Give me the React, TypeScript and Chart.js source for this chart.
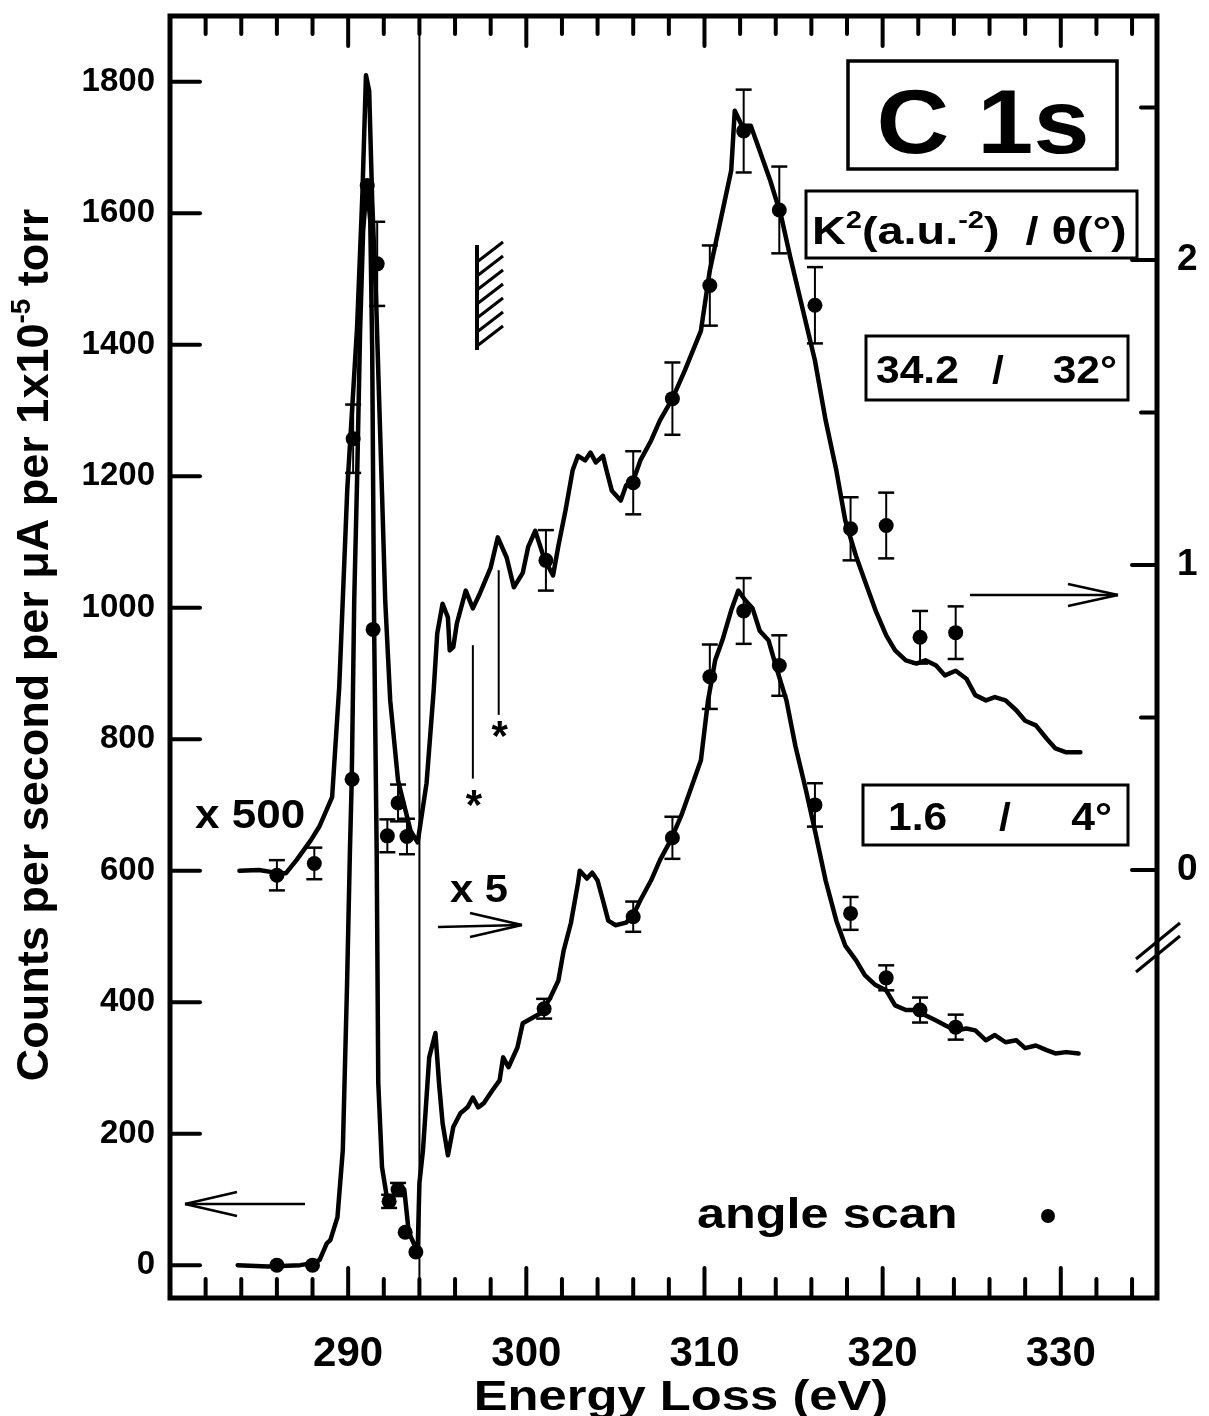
import React, { useEffect, useRef } from 'react';
import { Chart, registerables } from 'chart.js';

Chart.register(...registerables);

const FONT = '"Liberation Sans", Arial, Helvetica, sans-serif';

// ---------- axes ----------
const xMin = 280;
const xMax = 335.4;
const xTickValues = [290, 300, 310, 320, 330];
const xMinorValues = [282, 284, 286, 288, 292, 294, 296, 298, 302, 304, 306, 308, 312, 314, 316, 318, 322, 324, 326, 328, 332, 334];
const yMin = -50;
const yMax = 1900;
const yTickValues = [0, 200, 400, 600, 800, 1000, 1200, 1400, 1600, 1800];
const y2Min = -1.403;
const y2Max = 2.8;
const y2TickValues = [0, 1, 2];
const y2MinorValues = [0.5, 1.5, 2.5];

// ---------- upper spectrum (34.2 / 32°, x500 then x5) ----------
const upperE = [283.9, 285.0, 285.9, 286.5, 287.1, 287.9, 288.4, 289.1, 289.5, 289.95, 290.5, 290.8, 291.0, 291.18, 291.35, 291.57, 291.74, 291.9, 292.08, 292.36, 292.8, 293.5, 293.9, 294.4, 294.8, 295.0, 295.3, 295.6, 295.7, 295.9, 296.1, 296.6, 297.0, 297.4, 298.0, 298.4, 298.9, 299.3, 299.8, 300.1, 300.5, 301.0, 301.5, 301.8, 302.2, 302.6, 302.9, 303.3, 303.6, 303.9, 304.3, 304.5, 304.8, 305.3, 305.6, 306.0, 306.4, 307.0, 307.5, 308.2, 308.9, 309.8, 310.3, 310.9, 311.5, 311.7, 312.1, 312.6, 313.1, 313.7, 314.3, 314.8, 315.4, 316.2, 316.8, 317.4, 317.9, 318.5, 319.0, 319.6, 320.2, 320.7, 321.3, 321.9, 322.4, 323.0, 323.5, 324.1, 324.7, 325.2, 325.8, 326.3, 326.9, 327.5, 328.0, 328.6, 329.2, 329.7, 330.3, 331.1];
const upperV = [600, 601, 597, 596, 616, 646, 668, 712, 880, 1180, 1426, 1630, 1810, 1786, 1619, 1467, 1315, 1174, 1011, 859, 737, 661, 643, 733, 874, 961, 1006, 985, 935, 940, 976, 1026, 999, 1022, 1061, 1107, 1076, 1031, 1053, 1092, 1117, 1075, 1049, 1094, 1148, 1209, 1231, 1224, 1236, 1221, 1231, 1209, 1178, 1163, 1186, 1193, 1224, 1254, 1285, 1318, 1361, 1421, 1513, 1589, 1665, 1756, 1733, 1733, 1695, 1649, 1596, 1535, 1467, 1376, 1285, 1209, 1133, 1079, 1041, 996, 958, 935, 920, 915, 920, 912, 897, 904, 892, 867, 859, 864, 859, 844, 828, 821, 801, 786, 780, 780];

// ---------- lower spectrum (1.6 / 4°, x1 then x5) ----------
const lowerE = [283.8, 285.5, 287.3, 288.0, 288.4, 288.8, 289.0, 289.4, 289.7, 289.94, 290.1, 290.2, 290.34, 290.5, 290.67, 290.84, 291.05, 291.24, 291.35, 291.4, 291.46, 291.6, 291.69, 291.9, 292.2, 292.3, 292.8, 293.15, 293.4, 293.9, 294.0, 294.2, 294.55, 294.9, 295.1, 295.3, 295.6, 295.9, 296.3, 296.7, 297.0, 297.3, 297.6, 298.1, 298.5, 298.7, 299.0, 299.5, 299.8, 300.8, 301.35, 301.8, 302.1, 302.5, 302.9, 303.0, 303.4, 303.7, 304.0, 304.3, 304.6, 305.0, 305.6, 306.0, 306.4, 307.0, 307.5, 308.1, 308.7, 309.2, 309.8, 310.2, 310.6, 311.0, 311.5, 311.9, 312.3, 312.7, 313.1, 313.6, 314.0, 314.6, 315.1, 315.7, 316.2, 316.8, 317.4, 317.9, 318.5, 319.0, 319.6, 320.2, 320.7, 321.3, 321.9, 322.4, 323.0, 323.5, 324.1, 324.7, 325.2, 325.8, 326.3, 326.9, 327.5, 328.0, 328.6, 329.2, 329.7, 330.3, 331.0];
const lowerV = [0, -2, 0, 3, 8, 33, 38, 73, 175, 429, 631, 737, 1011, 1193, 1421, 1573, 1645, 1589, 1391, 1193, 965, 631, 277, 149, 99, 97, 115, 115, 50, 20, 125, 175, 316, 353, 277, 216, 167, 210, 231, 240, 255, 240, 246, 266, 281, 316, 301, 331, 368, 383, 407, 433, 479, 520, 581, 600, 588, 597, 585, 555, 524, 517, 521, 532, 555, 585, 616, 646, 684, 722, 768, 859, 920, 950, 996, 1026, 1011, 999, 965, 950, 912, 859, 790, 722, 661, 585, 524, 486, 464, 441, 426, 418, 395, 388, 388, 380, 372, 365, 357, 360, 357, 342, 350, 339, 342, 330, 334, 327, 322, 324, 322];

// ---------- angle scan points ----------
const upperDotE = [286.0, 288.1, 292.2, 292.8, 293.3, 301.1, 306.0, 308.2, 310.3, 312.2, 314.2, 316.2, 318.2, 320.2, 322.1, 324.1];
const upperDotV = [593, 611, 653, 703, 652, 1072, 1190, 1318, 1490, 1725, 1605, 1460, 1120, 1125, 955, 962];
const upperDotErr = [23, 24, 25, 28, 27, 46, 48, 55, 61, 63, 66, 58, 48, 50, 40, 40];

const peakDotE = [290.22, 290.28, 291.07, 291.63, 291.4];
const peakDotV = [739, 1257, 1642, 1523, 967];
const peakDotErr = [0, 52, 0, 64, 0];

const lowerDotE = [286.0, 288.0, 292.3, 292.8, 293.2, 293.8, 301.0, 306.0, 308.2, 310.3, 312.2, 314.2, 316.2, 318.2, 320.2, 322.1, 324.1];
const lowerDotV = [0, 0, 97, 115, 50, 20, 390, 530, 650, 895, 995, 912, 700, 535, 437, 388, 362];
const lowerDotErr = [0, 0, 10, 10, 0, 0, 15, 23, 32, 49, 50, 46, 33, 25, 19, 19, 19];

// ---------- annotation anchors (data coordinates) ----------
const refLineE = 294.0;
const asteriskE = [297.0, 298.45];
const asteriskTopV = [943, 1057];
const asteriskBottomV = [740, 837];
const asteriskStarV = [708, 813];

const pts = (xs: number[], ys: number[]) => xs.map((x, i) => ({ x, y: ys[i] }));

type Seg = { t: string; sup?: boolean };

function font(size: number) {
  return `bold ${size}px ${FONT}`;
}

function drawRich(ctx: CanvasRenderingContext2D, segs: Seg[], x: number, y: number, size: number, align: 'left' | 'center' | 'right', sx = 1) {
  ctx.save();
  ctx.translate(x, y);
  ctx.scale(sx, 1);
  ctx.textAlign = 'left';
  ctx.textBaseline = 'alphabetic';
  let w = 0;
  for (const s of segs) {
    ctx.font = font(s.sup ? size * 0.62 : size);
    w += ctx.measureText(s.t).width;
  }
  let cx = align === 'center' ? -w / 2 : align === 'right' ? -w : 0;
  for (const s of segs) {
    ctx.font = font(s.sup ? size * 0.62 : size);
    ctx.fillText(s.t, cx, s.sup ? -size * 0.4 : 0);
    cx += ctx.measureText(s.t).width;
  }
  ctx.restore();
}

function line(ctx: CanvasRenderingContext2D, x1: number, y1: number, x2: number, y2: number, w: number) {
  ctx.lineWidth = w;
  ctx.beginPath();
  ctx.moveTo(x1, y1);
  ctx.lineTo(x2, y2);
  ctx.stroke();
}

function arrow(ctx: CanvasRenderingContext2D, x1: number, y1: number, x2: number, y2: number, headLen: number, headHalf: number) {
  line(ctx, x1, y1, x2, y2, 2.5);
  const dir = Math.sign(x2 - x1);
  line(ctx, x2, y2, x2 - dir * headLen, y2 - headHalf, 2.5);
  line(ctx, x2, y2, x2 - dir * headLen, y2 + headHalf, 2.5);
}

const errorBarPlugin = {
  id: 'errorBars',
  afterDatasetsDraw(chart: any) {
    const ctx: CanvasRenderingContext2D = chart.ctx;
    const xs = chart.scales.x;
    const ys = chart.scales.y;
    const sets = [
      [upperDotE, upperDotV, upperDotErr],
      [peakDotE, peakDotV, peakDotErr],
      [lowerDotE, lowerDotV, lowerDotErr],
    ];
    ctx.save();
    ctx.strokeStyle = '#000';
    for (const [es, vs, errs] of sets) {
      es.forEach((e, i) => {
        if (!errs[i]) return;
        const px = xs.getPixelForValue(e);
        const top = ys.getPixelForValue(vs[i] + errs[i]);
        const bot = ys.getPixelForValue(vs[i] - errs[i]);
        line(ctx, px, top, px, bot, 2);
        line(ctx, px - 8, top, px + 8, top, 2.5);
        line(ctx, px - 8, bot, px + 8, bot, 2.5);
      });
    }
    ctx.restore();
  },
};

const decorPlugin = {
  id: 'decor',
  afterDraw(chart: any) {
    const ctx: CanvasRenderingContext2D = chart.ctx;
    const { left, right, top, bottom } = chart.chartArea;
    const xs = chart.scales.x;
    const ys = chart.scales.y;
    const y2s = chart.scales.y2;
    const X = (e: number) => xs.getPixelForValue(e);
    const Y = (v: number) => ys.getPixelForValue(v);
    ctx.save();
    ctx.strokeStyle = '#000';
    ctx.fillStyle = '#000';
    ctx.lineCap = 'round';

    // frame
    ctx.lineWidth = 5;
    ctx.strokeRect(left, top, right - left, bottom - top);

    // x ticks (bottom + top, inward)
    for (const v of xTickValues) {
      line(ctx, X(v), bottom, X(v), bottom - 30, 4);
      line(ctx, X(v), top, X(v), top + 30, 4);
    }
    for (const v of xMinorValues) {
      line(ctx, X(v), bottom, X(v), bottom - 19, 4);
      line(ctx, X(v), top, X(v), top + 18, 4);
    }
    // left ticks
    for (const v of yTickValues) line(ctx, left, Y(v), left + 30, Y(v), 4);
    // right ticks
    for (const v of y2TickValues) line(ctx, right, y2s.getPixelForValue(v), right - 25, y2s.getPixelForValue(v), 4);
    for (const v of y2MinorValues) line(ctx, right, y2s.getPixelForValue(v), right - 16, y2s.getPixelForValue(v), 4);
    // axis break on right axis
    ctx.lineCap = 'butt';
    line(ctx, 1136, 972, 1180, 936, 3);
    line(ctx, 1136, 959, 1180, 923, 3);

    // vertical reference line at 294 eV
    line(ctx, X(refLineE), top, X(refLineE), bottom, 2);

    // hatched marker
    line(ctx, 477, 245, 477, 350, 4);
    for (let yy = 262; yy <= 350; yy += 14) line(ctx, 477, yy, 503, yy - 20, 3);

    // asterisk marks
    asteriskE.forEach((e, i) => {
      line(ctx, X(e), Y(asteriskTopV[i]), X(e), Y(asteriskBottomV[i]), 2);
      ctx.font = font(42);
      ctx.textAlign = 'center';
      ctx.textBaseline = 'middle';
      ctx.fillText('*', X(e) + 1, Y(asteriskStarV[i]) + 8);
    });

    // arrows
    arrow(ctx, 305, 1204, 185, 1204, 52, 12);
    arrow(ctx, 438, 927, 522, 925, 52, 12);
    arrow(ctx, 970, 595, 1118, 595, 50, 11);

    // boxes
    ctx.lineWidth = 3.5;
    ctx.strokeRect(848, 61, 269, 108);
    ctx.lineWidth = 3;
    ctx.strokeRect(806, 191, 331, 67);
    ctx.strokeRect(866, 336, 262, 64);
    ctx.strokeRect(863, 785, 265, 60);

    // texts
    drawRich(ctx, [{ t: 'C 1s' }], 983, 153, 90, 'center', 1.12);
    drawRich(ctx, [{ t: 'K' }, { t: '2', sup: true }, { t: '(a.u.' }, { t: '-2', sup: true }, { t: ')  / θ(°)' }], 812, 244, 39, 'left', 1.2);
    drawRich(ctx, [{ t: '34.2' }], 876, 383, 38, 'left', 1.12);
    drawRich(ctx, [{ t: '/' }], 998, 383, 38, 'center', 1.12);
    drawRich(ctx, [{ t: '32°' }], 1117, 383, 38, 'right', 1.12);
    drawRich(ctx, [{ t: '1.6' }], 888, 830, 38, 'left', 1.12);
    drawRich(ctx, [{ t: '/' }], 1005, 830, 38, 'center', 1.12);
    drawRich(ctx, [{ t: '4°' }], 1112, 830, 38, 'right', 1.12);
    drawRich(ctx, [{ t: 'x 500' }], 195, 828, 40, 'left', 1.1);
    drawRich(ctx, [{ t: 'x 5' }], 450, 902, 38, 'left', 1.1);
    drawRich(ctx, [{ t: 'angle scan' }], 697, 1228, 42, 'left', 1.2);
    ctx.beginPath();
    ctx.arc(1048, 1216, 7, 0, Math.PI * 2);
    ctx.fill();

    // axis titles
    drawRich(ctx, [{ t: 'Energy Loss (eV)' }], 681, 1410, 43, 'center', 1.18);
    ctx.save();
    ctx.translate(48, 645);
    ctx.rotate(-Math.PI / 2);
    drawRich(ctx, [{ t: 'Counts per second per μA per 1x10' }, { t: '-5', sup: true }, { t: ' torr' }], 0, 0, 45, 'center', 1);
    ctx.restore();

    ctx.restore();
  },
};

export default function App() {
  const ref = useRef<HTMLCanvasElement | null>(null);
  useEffect(() => {
    document.body.style.margin = '0';
    const canvas = ref.current!;
    const black = '#000';
    const plain = (v: any) => String(v);
    const chart = new Chart(canvas, {
      type: 'scatter',
      data: {
        datasets: [
          { data: pts(upperE, upperV), showLine: true, borderColor: black, borderWidth: 4.5, pointRadius: 0, borderJoinStyle: 'round', borderCapStyle: 'round' } as any,
          { data: pts(lowerE, lowerV), showLine: true, borderColor: black, borderWidth: 4.5, pointRadius: 0, borderJoinStyle: 'round', borderCapStyle: 'round' } as any,
          { data: pts(upperDotE, upperDotV), showLine: false, pointRadius: 7.5, backgroundColor: black, borderColor: black, borderWidth: 0 },
          { data: pts(peakDotE, peakDotV), showLine: false, pointRadius: 7.5, backgroundColor: black, borderColor: black, borderWidth: 0 },
          { data: pts(lowerDotE, lowerDotV), showLine: false, pointRadius: 7.5, backgroundColor: black, borderColor: black, borderWidth: 0 },
        ],
      },
      options: {
        animation: false,
        responsive: false,
        devicePixelRatio: 1,
        layout: { padding: { top: 16, left: 0, right: 0, bottom: 0 } },
        plugins: { legend: { display: false }, tooltip: { enabled: false } },
        scales: {
          x: {
            type: 'linear',
            position: 'bottom',
            min: xMin,
            max: xMax,
            grid: { display: false, drawTicks: false },
            border: { display: false },
            afterBuildTicks: (s: any) => { s.ticks = xTickValues.map((v) => ({ value: v })); },
            afterFit: (s: any) => { s.height = 118; s.paddingLeft = 0; s.paddingRight = 0; },
            ticks: { autoSkip: false, maxRotation: 0, padding: 31, color: black, callback: plain, font: { family: FONT, size: 42, weight: 'bold' } },
          },
          y: {
            type: 'linear',
            position: 'left',
            min: yMin,
            max: yMax,
            grid: { display: false, drawTicks: false },
            border: { display: false },
            afterBuildTicks: (s: any) => { s.ticks = yTickValues.map((v) => ({ value: v })); },
            afterFit: (s: any) => { s.width = 170; s.paddingTop = 0; s.paddingBottom = 0; },
            ticks: { autoSkip: false, padding: 15, color: black, callback: plain, font: { family: FONT, size: 33, weight: 'bold' } },
          },
          y2: {
            type: 'linear',
            position: 'right',
            min: y2Min,
            max: y2Max,
            grid: { display: false, drawTicks: false },
            border: { display: false },
            afterBuildTicks: (s: any) => { s.ticks = y2TickValues.map((v) => ({ value: v })); },
            afterFit: (s: any) => { s.width = 52; s.paddingTop = 0; s.paddingBottom = 0; },
            ticks: { autoSkip: false, padding: 20, color: black, callback: plain, font: { family: FONT, size: 37, weight: 'bold' } },
          },
        },
      } as any,
      plugins: [errorBarPlugin, decorPlugin],
    });
    return () => chart.destroy();
  }, []);
  return (
    <div style={{ width: 1209, height: 1416, background: '#fff' }}>
      <canvas ref={ref} width={1209} height={1416} style={{ display: 'block' }} />
    </div>
  );
}
